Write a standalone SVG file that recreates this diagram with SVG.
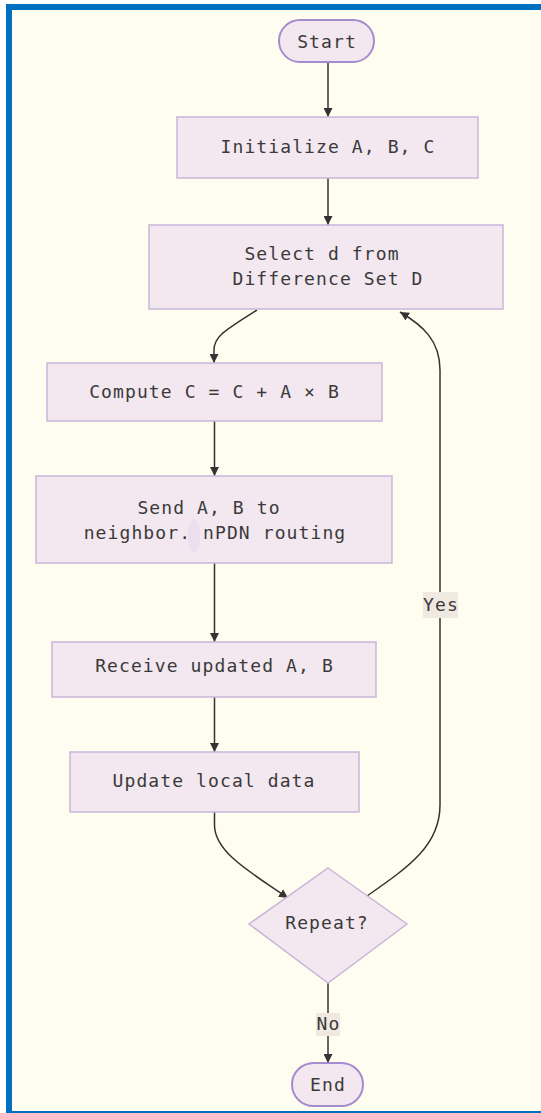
<svg xmlns="http://www.w3.org/2000/svg" width="541" height="1113" viewBox="0 0 541 1113">
<style>
.box{fill:#f3e7f0;stroke:#c9b6d9;stroke-width:1.5}
.term{fill:#f3e7f0;stroke:#a58ccf;stroke-width:2}
.t{font-family:"DejaVu Sans Mono","Liberation Mono",monospace;font-size:18px;letter-spacing:1.1px;fill:#3a3a3a;text-anchor:middle}
.edge{fill:none;stroke:#333;stroke-width:1.5}
.lbl{fill:#efe9e1}
</style>
<defs>
<marker id="ah" viewBox="0 0 10 10" refX="10" refY="5" markerWidth="9" markerHeight="9" markerUnits="userSpaceOnUse" orient="auto">
<path d="M0,0 L10,5 L0,10 z" fill="#333"/>
</marker>
</defs>
<rect x="0" y="0" width="541" height="1113" fill="#ffffff"/>
<rect x="6" y="4" width="535" height="1109" fill="#0070c0"/>
<rect x="12" y="10" width="529" height="1101" fill="#fffdf0"/>

<g id="connectors">
<path class="edge" d="M328,62 L328,117" marker-end="url(#ah)"/>
<path class="edge" d="M328,178 L328,225" marker-end="url(#ah)"/>
<path class="edge" d="M257,310 C226,330 214,336 214,350 L214,363" marker-end="url(#ah)"/>
<path class="edge" d="M214.5,421 L214.5,476" marker-end="url(#ah)"/>
<path class="edge" d="M214.5,563 L214.5,642" marker-end="url(#ah)"/>
<path class="edge" d="M214.5,697 L214.5,752" marker-end="url(#ah)"/>
<path class="edge" d="M214.5,812 L214.5,825 C214.5,852 250,872 288,898" marker-end="url(#ah)"/>
<path class="edge" d="M367,896 C410,866 440,845 440,805 L440,370 C440,340 422,325 400,312" marker-end="url(#ah)"/>
<path class="edge" d="M328,983 L328,1063" marker-end="url(#ah)"/>
<g id="label-yes">
<rect class="lbl" x="423" y="592" width="35" height="26"/>
<text class="t" x="441" y="611">Yes</text>
</g>
<g id="label-no">
<rect class="lbl" x="316" y="1013" width="24" height="23"/>
<text class="t" x="328.5" y="1030">No</text>
</g>
</g>

<g id="start">
<rect class="term" x="279" y="20" width="95" height="42" rx="21" ry="21"/>
<text class="t" x="327" y="47.5">Start</text>
</g>
<g id="init">
<rect class="box" x="177" y="117" width="301" height="61"/>
<text class="t" x="328" y="153">Initialize A, B, C</text>
</g>
<g id="select">
<rect class="box" x="149" y="225" width="354" height="84"/>
<text class="t" x="322" y="260">Select d from</text>
<text class="t" x="328" y="285">Difference Set D</text>
</g>
<g id="compute">
<rect class="box" x="47" y="363" width="335" height="58"/>
<text class="t" x="214.5" y="398">Compute C = C + A × B</text>
</g>
<g id="send">
<rect class="box" x="36" y="476" width="356" height="87"/>
<text class="t" x="209" y="514">Send A, B to</text>
<text class="t" x="215" y="539">neighbor. nPDN routing</text>
<ellipse cx="194" cy="536" rx="6" ry="17" fill="#e9dcef" opacity="0.85"/>
</g>
<g id="receive">
<rect class="box" x="52" y="642" width="324" height="55"/>
<text class="t" x="214.5" y="672">Receive updated A, B</text>
</g>
<g id="update">
<rect class="box" x="70" y="752" width="289" height="60"/>
<text class="t" x="214" y="787">Update local data</text>
</g>
<g id="repeat">
<polygon class="box" points="328,868 407,924 328,983 249,924"/>
<text class="t" x="327" y="929">Repeat?</text>
</g>
<g id="end">
<rect class="term" x="292" y="1063" width="71" height="43" rx="21.5" ry="21.5"/>
<text class="t" x="328" y="1091">End</text>
</g>
</svg>
